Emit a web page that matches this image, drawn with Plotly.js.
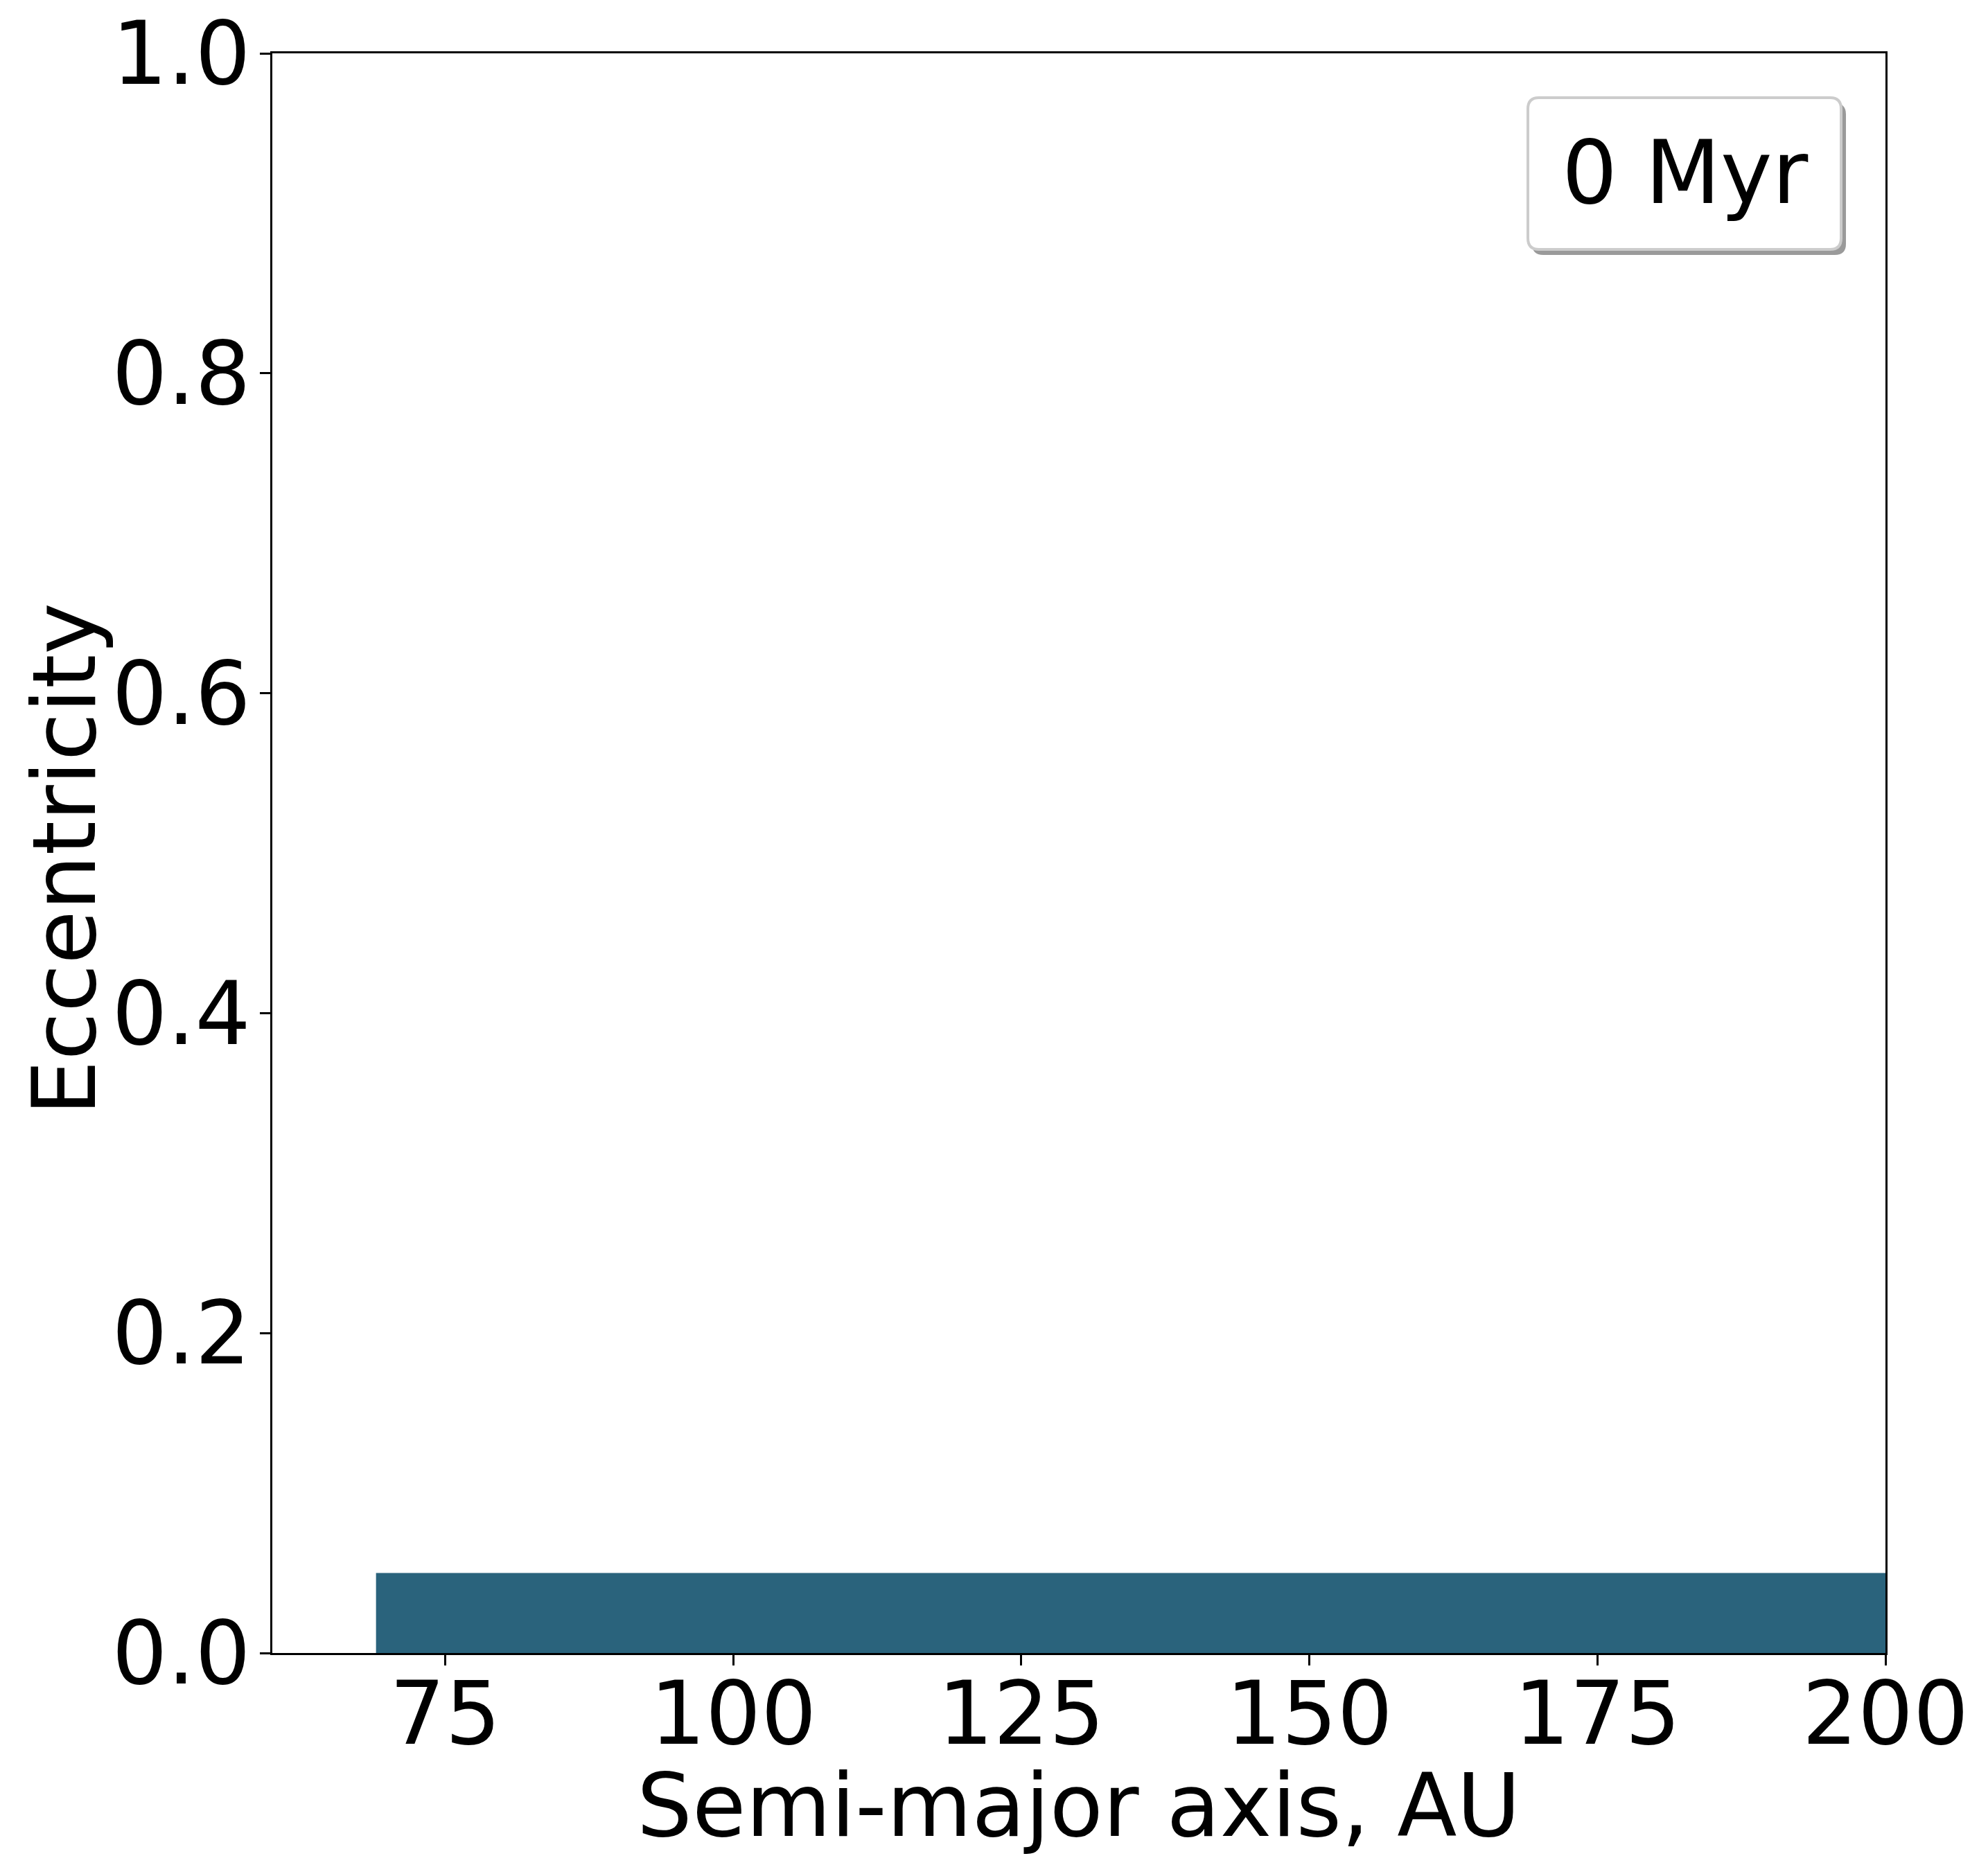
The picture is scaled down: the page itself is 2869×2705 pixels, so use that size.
<!DOCTYPE html>
<html>
<head>
<meta charset="utf-8">
<script src="https://cdn.plot.ly/plotly-3.0.1.min.js"></script>
<style>html,body{margin:0;padding:0;background:#fff;}</style>
</head>
<body>
<div id="chart" style="width:2869px;height:2705px;"></div>
<script>
// Data: particle belt at t = 0 Myr
const semiMajorAxis = [69, 200];      // AU, inner and outer edge of the belt
const eccentricity = [0.05, 0.05];    // maximum initial eccentricity
const xTicks = [75, 100, 125, 150, 175, 200];
const yTicks = [0, 0.2, 0.4, 0.6, 0.8, 1.0];
const xTitle = "Semi-major axis, AU";
const yTitle = "Eccentricity";
const timeLabel = "0 Myr";

const W = 2869, H = 2705;
const M = {l: 393, r: 148, t: 77, b: 319};
const pw = W - M.l - M.r, ph = H - M.t - M.b;
function px2paperX(px) { return (px - M.l) / pw; }
function px2paperY(py) { return (H - M.b - py) / ph; }
function roundRect(x0, y0, x1, y1, r) {
  const X = v => px2paperX(v).toFixed(6), Y = v => px2paperY(v).toFixed(6);
  return `M ${X(x0 + r)} ${Y(y0)} L ${X(x1 - r)} ${Y(y0)} Q ${X(x1)} ${Y(y0)} ${X(x1)} ${Y(y0 + r)} ` +
         `L ${X(x1)} ${Y(y1 - r)} Q ${X(x1)} ${Y(y1)} ${X(x1 - r)} ${Y(y1)} ` +
         `L ${X(x0 + r)} ${Y(y1)} Q ${X(x0)} ${Y(y1)} ${X(x0)} ${Y(y1 - r)} ` +
         `L ${X(x0)} ${Y(y0 + r)} Q ${X(x0)} ${Y(y0)} ${X(x0 + r)} ${Y(y0)} Z`;
}

const font = "DejaVu Sans, sans-serif";
const FS = 126;
const trace = {
  type: 'scatter', mode: 'lines',
  x: semiMajorAxis, y: eccentricity,
  fill: 'tozeroy', fillcolor: '#2a637c',
  line: {width: 0, color: '#2a637c'},
  hoverinfo: 'skip', showlegend: false
};

const axisCommon = {
  showline: true, linecolor: '#000', linewidth: 3, mirror: true,
  ticks: 'outside', ticklen: 15, tickwidth: 3, tickcolor: '#000',
  showgrid: false, zeroline: false,
  tickfont: {family: font, size: FS, color: '#000'}
};

const layout = {
  width: W, height: H,
  margin: M,
  paper_bgcolor: '#fff', plot_bgcolor: '#fff',
  showlegend: false,
  xaxis: Object.assign({}, axisCommon, {
    range: [60, 200], tickvals: xTicks, ticktext: xTicks.map(String),
    ticklabelstandoff: -38
  }),
  yaxis: Object.assign({}, axisCommon, {
    range: [0, 1], tickvals: yTicks, ticktext: yTicks.map(v => v.toFixed(1)),
    ticklabelstandoff: -12
  }),
  shapes: [
    {type: 'path', xref: 'paper', yref: 'paper', layer: 'above',
     path: roundRect(2211, 149, 2664, 368, 16), fillcolor: 'rgba(120,120,120,0.75)', line: {width: 0}},
    {type: 'path', xref: 'paper', yref: 'paper', layer: 'above',
     path: roundRect(2205, 141, 2657, 360, 16), fillcolor: '#ffffff', line: {color: '#cccccc', width: 4}}
  ],
  annotations: [
    {xref: 'paper', yref: 'paper', x: px2paperX(2431), y: px2paperY(250),
     xanchor: 'center', yanchor: 'middle', showarrow: false,
     text: timeLabel, font: {family: font, size: FS, color: '#000'}},
    {xref: 'paper', yref: 'paper', x: 0.5, y: px2paperY(2606),
     xanchor: 'center', yanchor: 'middle', showarrow: false,
     text: xTitle, font: {family: font, size: FS, color: '#000'}},
    {xref: 'paper', yref: 'paper', x: px2paperX(93), y: px2paperY(1240),
     xanchor: 'center', yanchor: 'middle', showarrow: false, textangle: -90,
     text: yTitle, font: {family: font, size: FS, color: '#000'}}
  ]
};

Plotly.newPlot('chart', [trace], layout, {displayModeBar: false, staticPlot: true});
</script>
</body>
</html>
